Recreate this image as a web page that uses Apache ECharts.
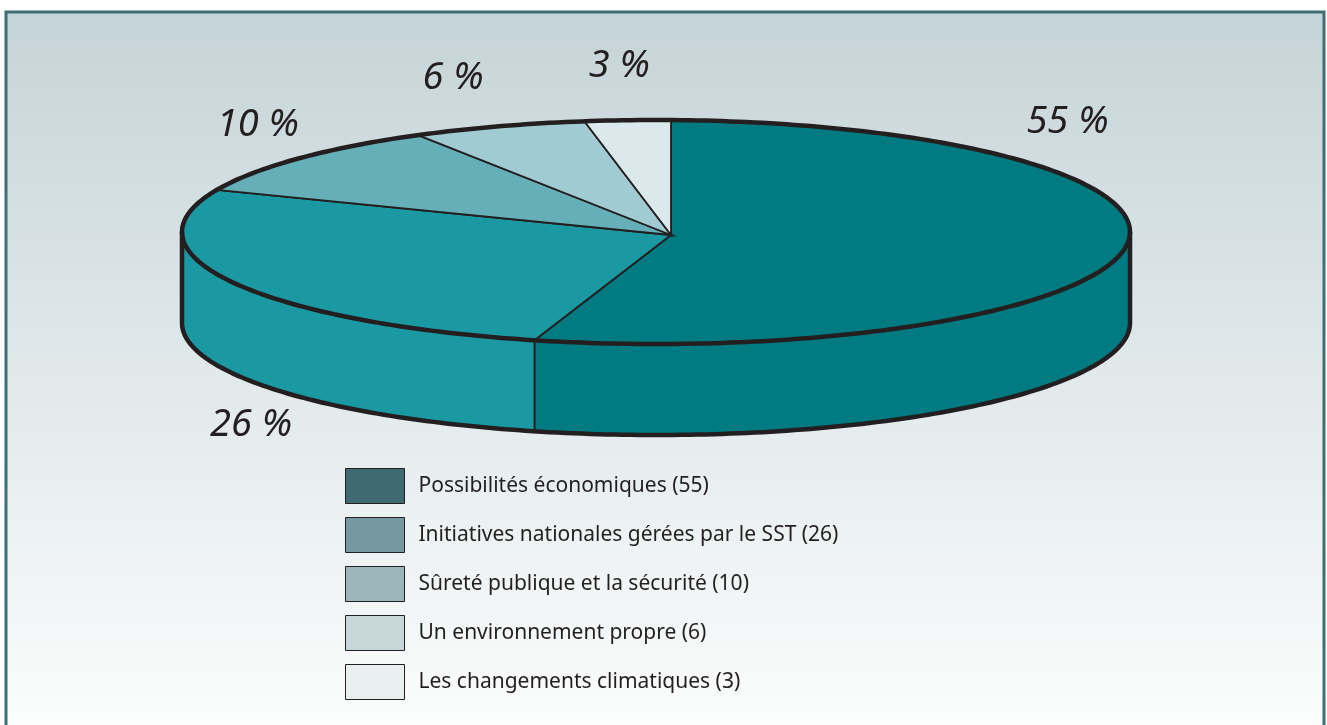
<!DOCTYPE html>
<html>
<head>
<meta charset="utf-8">
<script src="https://cdn.jsdelivr.net/npm/echarts@6/dist/echarts.min.js"></script>
<style>
html,body{margin:0;padding:0;background:#fff}
#main{width:1327px;height:725px}
</style>
</head>
<body>
<div id="main"></div>
<script>
// categories et valeurs
var categories = ['Possibilités économiques', 'Initiatives nationales gérées par le SST', 'Sûreté publique et la sécurité', 'Un environnement propre', 'Les changements climatiques'];
var counts = [55, 26, 10, 6, 3];
var sliceColors = ['#007b82', '#1a99a3', '#64afb8', '#a1cbd2', '#dbe9ec'];
var legendColors = ['#3e6b72', '#7698a0', '#9bb5ba', '#c7d6d9', '#e9efef'];

// geometrie du camembert 3D (ellipse + sommet decale pour la perspective)
var cx = 656, cy = 232, rx = 474, ry = 112, depth = 91;
var apexX = 671, apexY = 235, tilt = 1.06;
var ink = '#231f20';
// place des etiquettes: [angle, facteur de rayon, sous le cote?]
var labelAt = [[41.5, 1.31, 0], [223.1, 1.25, 1], [318.6, 1.27, 0], [342.7, 1.44, 0], [357, 1.48, 0]];

var total = 0, cum = [0];
for (var i = 0; i < counts.length; i++) { total += counts[i]; cum.push(total); }

function pt(deg, dy) {
    var r = deg * Math.PI / 180;
    return [cx + rx * Math.sin(r), cy - ry * Math.cos(r) + (dy || 0)];
}
function arc(a0, a1, dy) {
    var pts = [], n = Math.max(2, Math.ceil(Math.abs(a1 - a0)));
    for (var k = 0; k <= n; k++) pts.push(pt(a0 + (a1 - a0) * k / n, dy));
    return pts;
}
// angle du bord de l'ellipse touche par le rayon partant du sommet
function edgeAngle(phi) {
    var r = phi * Math.PI / 180;
    var px = (apexX - cx) / rx, py = (cy - apexY) / ry;
    var dx = Math.sin(r), dy = tilt * Math.cos(r);
    var a = dx * dx + dy * dy, b = 2 * (px * dx + py * dy), c = px * px + py * py - 1;
    var t = (-b + Math.sqrt(b * b - 4 * a * c)) / (2 * a);
    var d = Math.atan2(px + t * dx, py + t * dy) * 180 / Math.PI;
    return d < 0 ? d + 360 : d;
}

function sliceRender(idx) {
    return function (params, api) {
        var v = api.value(0);
        var a0 = cum[idx] / total * 360, a1 = a0 + v / total * 360;
        var t0 = edgeAngle(a0), t1 = edgeAngle(a1);
        if (t1 <= t0) t1 += 360;
        var kids = [];
        var s = Math.max(t0, 90), e = Math.min(t1, 270);
        if (e > s) {
            kids.push({
                type: 'polygon',
                shape: {points: arc(s, e, 0).concat(arc(e, s, depth))},
                style: {fill: sliceColors[idx], stroke: ink, lineWidth: 1.8}
            });
        }
        kids.push({
            type: 'polygon',
            shape: {points: [[apexX, apexY]].concat(arc(t0, t1, 0))},
            style: {fill: sliceColors[idx], stroke: ink, lineWidth: 1.8}
        });
        var la = labelAt[idx];
        var r = la[0] * Math.PI / 180;
        kids.push({
            type: 'text',
            x: cx + rx * la[1] * Math.sin(r),
            y: cy - ry * la[1] * Math.cos(r) + (la[2] ? depth : 0),
            style: {
                text: Math.round(v / total * 100) + ' %',
                fill: ink, fontSize: 38, fontStyle: 'italic',
                fontFamily: 'Noto Sans', align: 'center', verticalAlign: 'middle'
            }
        });
        return {type: 'group', children: kids};
    };
}

var series = [];
for (var j = 0; j < categories.length; j++) {
    series.push({
        type: 'custom',
        name: categories[j] + ' (' + counts[j] + ')',
        coordinateSystem: 'none',
        silent: true,
        data: [[counts[j]]],
        renderItem: sliceRender(j)
    });
}
// contour epais
series.push({
    type: 'custom',
    name: 'contour',
    coordinateSystem: 'none',
    silent: true,
    z: 5,
    data: [[0]],
    renderItem: function () {
        return {type: 'group', children: [
            {type: 'polygon', shape: {points: arc(0, 360, 0)}, style: {fill: null, stroke: ink, lineWidth: 4.5}},
            {type: 'polyline', shape: {points: [pt(270, 0)].concat(arc(270, 90, depth)).concat([pt(90, 0)])},
             style: {fill: null, stroke: ink, lineWidth: 4.5, lineJoin: 'round'}}
        ]};
    }
});

var legendData = [];
for (var m = 0; m < categories.length; m++) {
    legendData.push({name: categories[m] + ' (' + counts[m] + ')', itemStyle: {color: legendColors[m]}});
}

var myChart = echarts.init(document.getElementById('main'));
var option = {
    animation: false,
    graphic: [{
        type: 'rect', z: -10,
        shape: {x: 6, y: 12, width: 1318, height: 740},
        style: {
            fill: new echarts.graphic.LinearGradient(0, 0, 0, 1, [
                {offset: 0, color: '#c5d4d8'},
                {offset: 0.95, color: '#fbfcfc'},
                {offset: 1, color: '#ffffff'}
            ]),
            stroke: '#3f6f75', lineWidth: 3
        }
    }],
    legend: {
        orient: 'vertical',
        left: 345, top: 468,
        padding: 0,
        itemGap: 13,
        itemWidth: 59, itemHeight: 35,
        icon: 'rect',
        selectedMode: false,
        itemStyle: {borderColor: ink, borderWidth: 1},
        textStyle: {color: ink, fontSize: 21, fontFamily: 'Noto Sans', padding: [0, 0, 0, 9]},
        data: legendData
    },
    series: series
};
myChart.setOption(option);
</script>
</body>
</html>
